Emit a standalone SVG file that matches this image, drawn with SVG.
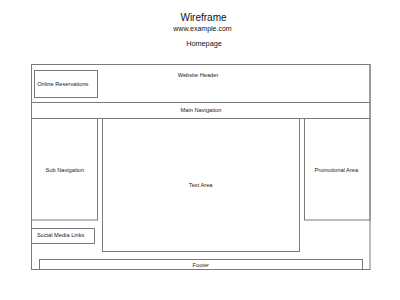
<svg xmlns="http://www.w3.org/2000/svg" width="400" height="300" viewBox="0 0 400 300">
<style>
.box{fill:none;stroke:#7a7a7a;stroke-width:1}
.lbl{font-family:"Liberation Sans",Arial,sans-serif;font-size:5.7px;fill:#222;text-anchor:middle}
.ttl{font-family:"Liberation Sans",Arial,sans-serif;fill:#111;text-anchor:middle}
</style>
<rect width="400" height="300" fill="#fff"/>
<g id="title">
<text class="ttl" x="203.5" y="21" font-size="10">Wireframe</text>
<text class="ttl" x="202.5" y="30.5" font-size="7">www.example.com</text>
<text class="ttl" x="204" y="45.5" font-size="7.3">Homepage</text>
</g>
<g id="page"><rect class="box" x="31.5" y="64.5" width="338.5" height="205"/></g>
<g id="header"><rect class="box" x="31.5" y="64.5" width="338.5" height="38"/><text class="lbl" x="198" y="77">Website Header</text></g>
<g id="reservations"><rect class="box" x="34.5" y="70.5" width="63" height="27"/><text class="lbl" x="62.8" y="86">Online Reservations</text></g>
<g id="mainnav"><rect class="box" x="31.5" y="102.5" width="338.5" height="16"/><text class="lbl" x="201" y="112.3">Main Navigation</text></g>
<g id="subnav"><rect class="box" x="31.5" y="118.5" width="66" height="101.5"/><text class="lbl" x="64.8" y="171.7">Sub Navigation</text></g>
<g id="social"><rect class="box" x="31.5" y="228.5" width="63" height="15"/><text class="lbl" x="60.7" y="237.3">Social Media Links</text></g>
<g id="textarea"><rect class="box" x="102.5" y="118.5" width="197" height="133"/><text class="lbl" x="200.7" y="187">Text Area</text></g>
<g id="promo"><rect class="box" x="304.5" y="118.5" width="65.5" height="101.5"/><text class="lbl" x="336.3" y="171.7">Promotional Area</text></g>
<g id="footer"><rect class="box" x="39.5" y="259.5" width="323" height="10"/><text class="lbl" x="200.8" y="267">Footer</text></g>
<g id="connectors"/>
</svg>
